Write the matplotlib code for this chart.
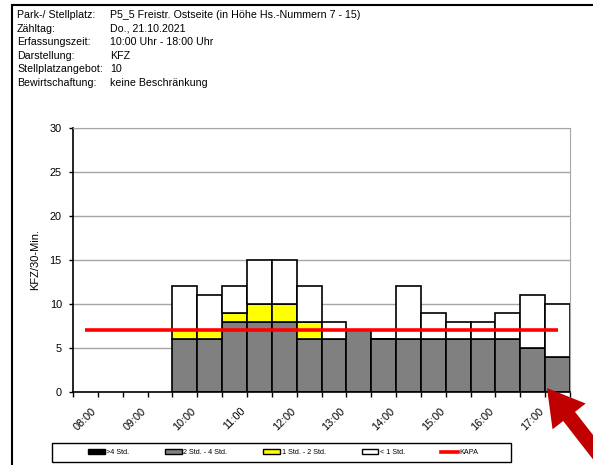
import numpy as np
import matplotlib.pyplot as plt
from matplotlib.patches import Patch, Rectangle, Polygon
from matplotlib.lines import Line2D

plt.rcParams['font.family'] = ['Liberation Sans', 'DejaVu Sans']

# header
head_keys = ['Park-/ Stellplatz:', 'Zähltag:', 'Erfassungszeit:', 'Darstellung:',
             'Stellplatzangebot:', 'Bewirtschaftung:']
head_vals = ['P5_5 Freistr. Ostseite (in Höhe Hs.-Nummern 7 - 15)', 'Do., 21.10.2021',
             '10:00 Uhr - 18:00 Uhr', 'KFZ', '10', 'keine Beschränkung']

# half-hour slots 08:00 .. 17:30, data starts at 10:00
slot_labels = ['08:00', '09:00', '10:00', '11:00', '12:00',
               '13:00', '14:00', '15:00', '16:00', '17:00']
n_slots = 20
first_data_slot = 4
over4 = [0, 0, 0, 0, 0, 0, 0, 0, 0, 0, 0, 0, 0, 0, 0, 0]
h2_4 = [6, 6, 8, 8, 8, 6, 6, 7, 6, 6, 6, 6, 6, 6, 5, 4]
h1_2 = [1, 1, 1, 2, 2, 2, 0, 0, 0, 0, 0, 0, 0, 0, 0, 0]
under1 = [5, 4, 3, 5, 5, 4, 2, 0, 0, 6, 3, 2, 2, 3, 6, 6]
kapa = 7

W, H = 593, 465
fig = plt.figure(figsize=(W / 100, H / 100), dpi=100)

# outer frame (cut at right / bottom)
fig.add_artist(Rectangle((12 / W, -0.1), 1.2, 1.1 - 5 / H, transform=fig.transFigure,
                         fill=False, edgecolor='black', lw=1.5))

for i, (k, v) in enumerate(zip(head_keys, head_vals)):
    y = 1 - (18 + 13.6 * i) / H
    fig.text(17 / W, y, k, fontsize=7.7, va='baseline')
    fig.text(110 / W, y, v, fontsize=7.7, va='baseline')

ax = fig.add_axes([73 / W, 1 - 392 / H, (570 - 73) / W, (392 - 128) / H])

x = np.arange(len(h2_4)) + first_data_slot
b0 = np.array(over4)
b1 = b0 + np.array(h2_4)
b2 = b1 + np.array(h1_2)
kw = dict(width=1, align='edge', edgecolor='black', linewidth=1.2, zorder=2)
ax.bar(x, over4, color='black', **kw)
ax.bar(x, h2_4, bottom=b0, color='#808080', **kw)
ax.bar(x, h1_2, bottom=b1, color='#FFFF00', **kw)
ax.bar(x, under1, bottom=b2, color='white', **kw)

kx = np.arange(n_slots) + 0.5
ax.plot([kx[0], kx[-1]], [kapa, kapa], color='#FF0000', lw=2.6, zorder=3,
        solid_capstyle='butt')

ax.set_xlim(0, n_slots)
ax.set_ylim(0, 30)
ax.set_yticks(np.arange(0, 31, 5))
ax.yaxis.grid(True, color='#A6A6A6', lw=1, zorder=0)
ax.set_axisbelow(True)
ax.tick_params(axis='y', labelsize=7.8, length=3, width=1, pad=5)

ax.set_xticks(np.arange(0, n_slots + 1), minor=True)
ax.set_xticks(np.arange(0, n_slots, 2) + 0.5)
ax.set_xticklabels(slot_labels, rotation=45, ha='center', va='top')
ax.tick_params(axis='x', which='major', length=0, labelsize=7.8, pad=10)
ax.tick_params(axis='x', which='minor', length=3.5, width=1, direction='out')

for s in ['left', 'bottom']:
    ax.spines[s].set_linewidth(1.2)
for s in ['top', 'right']:
    ax.spines[s].set_color('#A6A6A6')

ax.set_ylabel('KFZ/30-Min.', fontsize=8)
ax.yaxis.set_label_coords(-0.066, 0.5)

handles = [Patch(facecolor='black', edgecolor='black'),
           Patch(facecolor='#808080', edgecolor='black'),
           Patch(facecolor='#FFFF00', edgecolor='black'),
           Patch(facecolor='white', edgecolor='black'),
           Line2D([], [], color='#FF0000', lw=2.6)]
labels = ['>4 Std.', '2 Std. - 4 Std.', '1 Std. - 2 Std.', '< 1 Std.', 'KAPA']
fig.add_artist(Rectangle((52 / W, 1 - 462 / H), (511 - 52) / W, 19 / H,
                         transform=fig.transFigure, fill=False, edgecolor='black', lw=1))
fig.legend(handles, labels, loc='center', ncol=5, fontsize=5.2, frameon=False,
           bbox_to_anchor=(283 / W, 1 - 452.5 / H), handlelength=2.3, handleheight=0.7,
           handletextpad=0.2, columnspacing=5.0, borderpad=0)

# red arrow pointing to the last bar
tip = np.array([547.0, 388.0])
d = np.array([21.0, 27.0])
d /= np.linalg.norm(d)
n = np.array([-d[1], d[0]])
hl, hw, sw = 36, 42, 15
base = tip + d * hl
end = tip + d * 120
pts = [tip, base + n * hw / 2, base + n * sw / 2, end + n * sw / 2,
       end - n * sw / 2, base - n * sw / 2, base - n * hw / 2]
pts = [(p[0] / W, 1 - p[1] / H) for p in pts]
fig.add_artist(Polygon(pts, closed=True, transform=fig.transFigure,
                       facecolor='#C00000', edgecolor='none'))

fig.savefig('out.png', dpi=100)
